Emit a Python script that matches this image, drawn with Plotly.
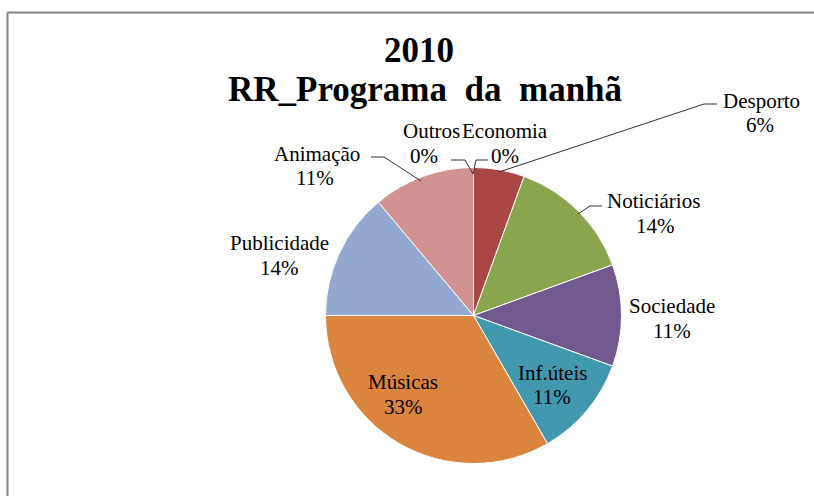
import plotly.graph_objects as go

W, H = 814, 496

# data (counts behind the percentages, clockwise from 12 o'clock)
labels = ["Economia", "Desporto", "Noticiários", "Sociedade", "Inf.úteis",
          "Músicas", "Publicidade", "Animação", "Outros"]
values = [0, 2, 5, 4, 4, 12, 5, 4, 0]
colors = ["#4572A7", "#AA4643", "#89A54E", "#71588F", "#4198AF",
          "#DB843D", "#93A9CF", "#D19392", "#B9CD96"]

title_year = "2010"
title_main = "RR_Programa\u00a0 da\u00a0 manhã"


def px(x):
    return x / W


def py(y):
    return 1 - y / H


# label positions in pixels: (name x, name y, pct x, pct y) -- layout only
label_pos = {
    "Economia": (505, 131, 505, 156),
    "Desporto": (761, 101, 760, 125),
    "Noticiários": (653, 201, 655, 226),
    "Sociedade": (672, 306, 672, 331),
    "Inf.úteis": (552, 373, 552, 397),
    "Músicas": (403, 382, 403, 407),
    "Publicidade": (279, 243, 279, 268),
    "Animação": (317, 154, 315, 178),
    "Outros": (432, 131, 424, 156),
}

# leader lines in pixels
leaders = [
    [(499, 172), (704, 104), (717, 104)],
    [(578, 214), (590, 206), (602, 206)],
    [(421, 181), (384, 157), (371, 157)],
    [(473, 174), (465, 160), (451, 160)],
    [(473, 174), (476, 160), (488, 160)],
]

cx, cy, r = 473.5, 315.5, 148

fig = go.Figure(go.Pie(
    labels=labels,
    values=values,
    sort=False,
    direction="clockwise",
    rotation=0,
    marker=dict(colors=colors, line=dict(color="white", width=1)),
    textinfo="none",
    textposition="none",
    hoverinfo="label+percent",
    showlegend=False,
    domain=dict(x=[px(cx - r), px(cx + r)], y=[py(cy + r), py(cy - r)]),
))

total = sum(values)
font = dict(family="Liberation Serif", size=21, color="#000000")

annotations = []
for lab, val in zip(labels, values):
    nx, ny, qx, qy = label_pos[lab]
    pct = round(100 * val / total)
    annotations.append(dict(
        x=px(nx), y=py(ny), xref="paper", yref="paper",
        text=lab, showarrow=False,
        xanchor="center", yanchor="middle", font=font,
    ))
    annotations.append(dict(
        x=px(qx), y=py(qy), xref="paper", yref="paper",
        text=f"{pct}%", showarrow=False,
        xanchor="center", yanchor="middle", font=font,
    ))

title_font = dict(family="Liberation Serif", size=35, color="#000000")
annotations.append(dict(x=px(419), y=py(50), xref="paper", yref="paper",
                        text=f"<b>{title_year}</b>", showarrow=False,
                        xanchor="center", yanchor="middle", font=title_font))
annotations.append(dict(x=px(425), y=py(90), xref="paper", yref="paper",
                        text=f"<b>{title_main}</b>", showarrow=False,
                        xanchor="center", yanchor="middle", font=title_font))

shapes = []
for pts in leaders:
    path = "M " + " L ".join(f"{px(x)},{py(y)}" for x, y in pts)
    shapes.append(dict(type="path", path=path, xref="paper", yref="paper",
                       line=dict(color="#303030", width=1)))

# chart frame (only top and left edges are visible in the crop)
shapes.append(dict(type="line", xref="paper", yref="paper",
                   x0=px(7.5), y0=py(12.5), x1=px(W), y1=py(12.5),
                   line=dict(color="#868686", width=2)))
shapes.append(dict(type="line", xref="paper", yref="paper",
                   x0=px(7.5), y0=py(12.5), x1=px(7.5), y1=py(H),
                   line=dict(color="#868686", width=2)))

fig.update_layout(
    width=W,
    height=H,
    margin=dict(l=0, r=0, t=0, b=0),
    paper_bgcolor="white",
    plot_bgcolor="white",
    annotations=annotations,
    shapes=shapes,
)

fig.write_html("out.html", config={"displayModeBar": False},
               post_script="document.body.style.margin='0px';")
